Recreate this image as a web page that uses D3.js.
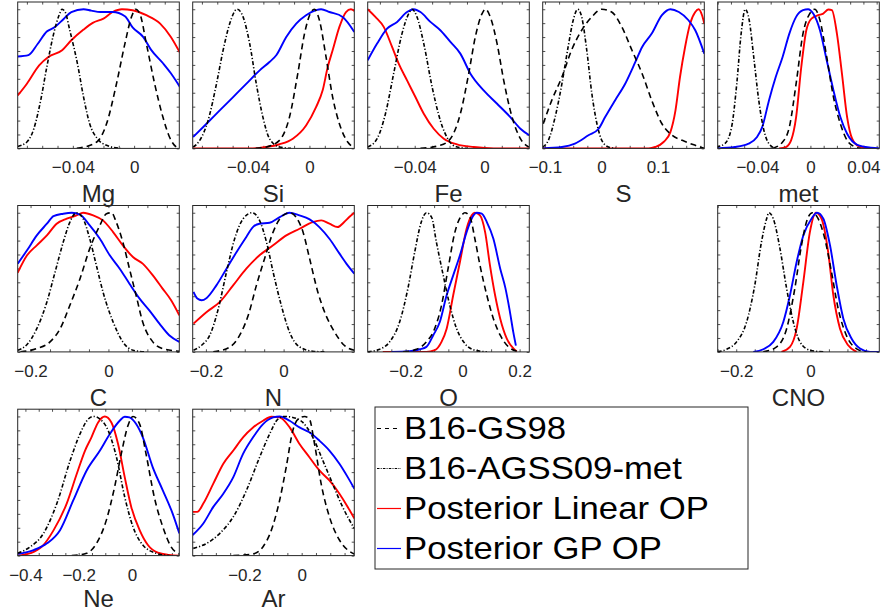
<!DOCTYPE html>
<html>
<head>
<meta charset="utf-8">
<script src="https://cdn.jsdelivr.net/npm/d3@7"></script>
<style>
  body { margin: 0; background: #fff; }
  svg { display: block; }
</style>
</head>
<body>
<script>
// Abundance posteriors vs. solar-model priors, one small panel per element.
const elements = ["Mg", "Si", "Fe", "S", "met", "C", "N", "O", "CNO", "Ne", "Ar"];
const xLo = [-0.076, -0.076, -0.067, -0.104, -0.070, -0.233, -0.234, -0.333, -0.250, -0.429, -0.381];
const xHi = [0.0295, 0.0292, 0.0258, 0.182, 0.052, 0.182, 0.182, 0.234, 0.186, 0.178, 0.184];
const tickLabelValues = [
  [-0.04, 0], [-0.04, 0], [-0.04, 0], [-0.1, 0, 0.1], [-0.04, 0, 0.04],
  [-0.2, 0], [-0.2, 0], [-0.2, 0, 0.2], [-0.2, 0], [-0.4, -0.2, 0], [-0.2, 0]
];
const minorStep = [0.01, 0.01, 0.01, 0.025, 0.01, 0.05, 0.05, 0.05, 0.05, 0.05, 0.05];
const legendLabels = ["B16-GS98", "B16-AGSS09-met", "Posterior Linear OP", "Posterior GP OP"];

// ---- Mg
const mgGS98 = [[-0.0374,0],[-0.0244,0.046],[-0.018,0.177],[-0.0115,0.465],[-0.006,0.753],[-0.0017,0.945],[0.001,1.0],[0.0037,0.969],[0.008,0.753],[0.0134,0.465],[0.0188,0.225],[0.0231,0.082],[0.0275,0.01],[0.0296,0]];
const mgAGSS = [[-0.076,0.014],[-0.070,0.046],[-0.0655,0.14],[-0.061,0.345],[-0.057,0.585],[-0.0525,0.825],[-0.049,0.957],[-0.047,1.0],[-0.045,0.98],[-0.042,0.849],[-0.037,0.609],[-0.033,0.369],[-0.029,0.177],[-0.024,0.07],[-0.018,0.022],[-0.009,0]];
const mgLinear = [[-0.076,0.38],[-0.070,0.465],[-0.062,0.597],[-0.056,0.657],[-0.047,0.705],[-0.041,0.777],[-0.033,0.854],[-0.027,0.902],[-0.020,0.933],[-0.014,0.98],[-0.008,1.0],[-0.001,0.993],[0.008,0.957],[0.017,0.897],[0.024,0.801],[0.030,0.686]];
const mgGP = [[-0.076,0.66],[-0.069,0.67],[-0.063,0.75],[-0.057,0.84],[-0.052,0.87],[-0.046,0.93],[-0.041,0.98],[-0.033,1.0],[-0.028,0.99],[-0.022,0.98],[-0.014,0.98],[-0.006,0.95],[-0.001,0.87],[0.006,0.80],[0.011,0.71],[0.019,0.61],[0.024,0.54],[0.030,0.44]];

// ---- Si
const siGS98 = [[-0.035,0],[-0.0281,0.01],[-0.0195,0.058],[-0.013,0.225],[-0.0076,0.537],[-0.0032,0.825],[0.0011,0.98],[0.0032,1.0],[0.0065,0.921],[0.0108,0.657],[0.0151,0.369],[0.0195,0.177],[0.0249,0.046],[0.0281,0.01]];
const siAGSS = [[-0.0757,0.01],[-0.0714,0.058],[-0.066,0.2],[-0.0605,0.465],[-0.0562,0.705],[-0.0519,0.897],[-0.0471,1.0],[-0.0432,0.945],[-0.0389,0.753],[-0.0346,0.465],[-0.0303,0.225],[-0.026,0.07],[-0.0195,0.01],[-0.012,0]];
const siLinear = [[-0.0761,0],[-0.0368,0],[-0.0281,0.01],[-0.0195,0.03],[-0.0108,0.07],[-0.0022,0.165],[0.0043,0.297],[0.0086,0.417],[0.0119,0.585],[0.0151,0.705],[0.0195,0.873],[0.0238,0.98],[0.027,1.0],[0.0292,0.988]];
const siGP = [[-0.0757,0.082],[-0.067,0.177],[-0.0584,0.273],[-0.0497,0.369],[-0.041,0.465],[-0.0324,0.561],[-0.026,0.621],[-0.0216,0.669],[-0.0151,0.801],[-0.0086,0.897],[-0.0022,0.957],[0.0043,0.993],[0.0076,1.0],[0.013,0.98],[0.0216,0.945],[0.0292,0.837]];

// ---- Fe
const feGS98 = [[-0.0367,0],[-0.0253,0.022],[-0.0195,0.07],[-0.0138,0.249],[-0.009,0.537],[-0.0052,0.801],[-0.0013,0.969],[0.0006,1.0],[0.0034,0.945],[0.0073,0.753],[0.0111,0.489],[0.0159,0.225],[0.0207,0.07],[0.0255,0.01]];
const feAGSS = [[-0.067,0.01],[-0.0616,0.07],[-0.0568,0.249],[-0.0521,0.537],[-0.0473,0.825],[-0.0434,0.969],[-0.0415,1.0],[-0.0387,0.945],[-0.0348,0.753],[-0.03,0.441],[-0.0253,0.201],[-0.0205,0.058],[-0.0157,0.01],[-0.01,0]];
const feLinear = [[-0.067,1.0],[-0.0626,0.945],[-0.0578,0.873],[-0.053,0.729],[-0.0492,0.609],[-0.0444,0.489],[-0.0396,0.369],[-0.0348,0.249],[-0.0291,0.141],[-0.0233,0.07],[-0.0157,0.029],[-0.0061,0.01],[0.0054,0],[0.0258,0]];
const feGP = [[-0.067,0.633],[-0.0616,0.753],[-0.0559,0.861],[-0.0501,0.909],[-0.0444,0.98],[-0.0406,1.0],[-0.0367,0.98],[-0.031,0.909],[-0.0253,0.849],[-0.0195,0.765],[-0.0138,0.681],[-0.008,0.537],[-0.0004,0.417],[0.0073,0.321],[0.0149,0.225],[0.0207,0.141],[0.0258,0.094]];

// ---- S
const sGS98 = [[-0.103,0.177],[-0.088,0.345],[-0.070,0.513],[-0.053,0.705],[-0.035,0.849],[-0.017,0.945],[0.0006,1.0],[0.018,0.98],[0.036,0.873],[0.054,0.705],[0.072,0.537],[0.089,0.345],[0.107,0.177],[0.125,0.094],[0.143,0.058],[0.166,0.022],[0.182,0]];
const sAGSS = [[-0.104,0.01],[-0.094,0.058],[-0.082,0.225],[-0.070,0.465],[-0.059,0.729],[-0.050,0.921],[-0.042,1.0],[-0.035,0.945],[-0.026,0.705],[-0.017,0.393],[-0.008,0.177],[0.0006,0.058],[0.0124,0.01],[0.025,0]];
const sLinear = [[-0.104,0],[0.0834,0],[0.095,0.01],[0.110,0.046],[0.122,0.117],[0.131,0.273],[0.139,0.513],[0.148,0.729],[0.157,0.897],[0.166,0.98],[0.172,1.0],[0.178,0.957],[0.182,0.897]];
const sGP = [[-0.104,0],[-0.070,0.01],[-0.047,0.034],[-0.023,0.094],[-0.005,0.141],[0.0065,0.225],[0.024,0.345],[0.042,0.465],[0.060,0.621],[0.072,0.729],[0.089,0.825],[0.107,0.957],[0.122,1.0],[0.137,0.98],[0.154,0.921],[0.166,0.849],[0.182,0.681]];

// ---- met
const metGS98 = [[-0.0287,0],[-0.021,0.046],[-0.0159,0.153],[-0.0108,0.465],[-0.0056,0.825],[-0.0005,0.969],[0.0033,1.0],[0.0072,0.921],[0.0123,0.657],[0.0174,0.369],[0.0226,0.177],[0.0277,0.058],[0.0328,0.014],[0.038,0]];
const metAGSS = [[-0.071,0.01],[-0.0646,0.034],[-0.0595,0.153],[-0.0556,0.465],[-0.0523,0.825],[-0.0492,1.0],[-0.0462,0.921],[-0.0428,0.657],[-0.039,0.345],[-0.0351,0.129],[-0.0313,0.034],[-0.0262,0]];
const metLinear = [[-0.0236,0],[-0.0185,0.01],[-0.0146,0.058],[-0.0108,0.225],[-0.0069,0.585],[-0.0031,0.849],[0.0008,0.933],[0.0059,0.957],[0.0097,0.969],[0.0136,0.998],[0.0162,0.993],[0.02,0.825],[0.0238,0.537],[0.0277,0.225],[0.0315,0.07],[0.0367,0.014],[0.0456,0]];
const metGP = [[-0.071,0],[-0.057,0.01],[-0.0467,0.034],[-0.0403,0.082],[-0.0364,0.153],[-0.0313,0.345],[-0.0262,0.513],[-0.021,0.657],[-0.0159,0.825],[-0.0108,0.945],[-0.0056,0.993],[-0.0018,1.0],[0.0021,0.969],[0.0072,0.849],[0.0123,0.633],[0.0174,0.417],[0.0226,0.225],[0.0277,0.105],[0.0354,0.026],[0.0456,0.005],[0.0528,0]];

// ---- C
const cGS98 = [[-0.226,0],[-0.184,0.024],[-0.150,0.072],[-0.124,0.167],[-0.099,0.335],[-0.073,0.526],[-0.048,0.742],[-0.022,0.909],[-0.005,0.993],[0.008,1.0],[0.020,0.933],[0.037,0.789],[0.054,0.598],[0.071,0.407],[0.088,0.215],[0.114,0.072],[0.139,0.024],[0.182,0.005]];
const cAGSS = [[-0.233,0.012],[-0.209,0.053],[-0.184,0.167],[-0.158,0.359],[-0.137,0.574],[-0.116,0.789],[-0.099,0.933],[-0.082,1.0],[-0.065,0.957],[-0.048,0.813],[-0.031,0.622],[-0.014,0.431],[0.012,0.215],[0.037,0.072],[0.063,0.012],[0.097,0]];
const cLinear = [[-0.233,0.569],[-0.209,0.694],[-0.184,0.766],[-0.158,0.837],[-0.133,0.921],[-0.107,0.957],[-0.082,0.981],[-0.065,1.0],[-0.039,0.981],[-0.014,0.945],[0.012,0.861],[0.037,0.766],[0.063,0.682],[0.088,0.634],[0.114,0.55],[0.139,0.455],[0.161,0.371],[0.182,0.263]];
const cGP = [[-0.233,0.634],[-0.209,0.73],[-0.184,0.837],[-0.158,0.921],[-0.141,0.976],[-0.116,0.993],[-0.094,1.0],[-0.073,0.986],[-0.048,0.909],[-0.022,0.813],[0.0034,0.694],[0.029,0.598],[0.054,0.49],[0.080,0.383],[0.105,0.299],[0.131,0.203],[0.156,0.12],[0.182,0.072]];

// ---- N
const nGS98 = [[-0.181,0],[-0.138,0.036],[-0.113,0.12],[-0.091,0.263],[-0.070,0.478],[-0.049,0.67],[-0.027,0.861],[-0.006,0.969],[0.015,1.0],[0.032,0.969],[0.050,0.861],[0.067,0.67],[0.088,0.431],[0.109,0.263],[0.131,0.144],[0.156,0.048],[0.182,0.012]];
const nAGSS = [[-0.232,0.012],[-0.211,0.048],[-0.190,0.12],[-0.168,0.311],[-0.147,0.574],[-0.126,0.813],[-0.104,0.957],[-0.081,1.0],[-0.062,0.945],[-0.044,0.789],[-0.027,0.574],[-0.006,0.335],[0.015,0.144],[0.041,0.036],[0.075,0.005],[0.105,0]];
const nLinear = [[-0.232,0.203],[-0.198,0.287],[-0.164,0.359],[-0.130,0.478],[-0.096,0.598],[-0.062,0.694],[-0.027,0.766],[0.007,0.837],[0.041,0.885],[0.075,0.933],[0.097,0.945],[0.118,0.921],[0.139,0.897],[0.156,0.933],[0.169,0.969],[0.182,1.0]];
const nGP = [[-0.232,0.431],[-0.222,0.383],[-0.211,0.371],[-0.198,0.388],[-0.173,0.478],[-0.147,0.598],[-0.121,0.718],[-0.096,0.826],[-0.079,0.897],[-0.062,0.921],[-0.036,0.928],[-0.010,0.969],[0.015,1.0],[0.041,0.981],[0.067,0.952],[0.092,0.897],[0.118,0.813],[0.144,0.706],[0.165,0.622],[0.182,0.562]];

// ---- O
const oGS98 = [[-0.209,0],[-0.162,0.019],[-0.127,0.072],[-0.098,0.167],[-0.074,0.335],[-0.051,0.598],[-0.027,0.861],[-0.0035,0.981],[0.008,1.0],[0.026,0.969],[0.043,0.813],[0.061,0.622],[0.085,0.407],[0.108,0.239],[0.132,0.12],[0.161,0.036],[0.190,0.005]];
const oAGSS = [[-0.333,0],[-0.291,0.019],[-0.256,0.072],[-0.221,0.215],[-0.192,0.455],[-0.168,0.718],[-0.145,0.933],[-0.127,1.0],[-0.109,0.969],[-0.092,0.789],[-0.068,0.55],[-0.045,0.335],[-0.021,0.167],[0.008,0.06],[0.043,0.012],[0.085,0]];
const oLinear = [[-0.280,0],[-0.127,0],[-0.098,0.012],[-0.074,0.072],[-0.056,0.167],[-0.033,0.407],[-0.0094,0.646],[0.014,0.885],[0.032,0.981],[0.043,1.0],[0.061,0.981],[0.079,0.861],[0.096,0.622],[0.114,0.407],[0.132,0.239],[0.155,0.096],[0.179,0.024],[0.190,0.005]];
const oGP = [[-0.250,0],[-0.186,0.005],[-0.150,0.019],[-0.127,0.036],[-0.103,0.12],[-0.080,0.215],[-0.056,0.407],[-0.033,0.55],[-0.0094,0.694],[0.014,0.861],[0.038,0.981],[0.049,1.0],[0.067,0.993],[0.085,0.933],[0.108,0.813],[0.132,0.598],[0.150,0.46],[0.165,0.30],[0.178,0.14],[0.187,0.045]];

// ---- CNO
const cnoGS98 = [[-0.127,0],[-0.091,0.036],[-0.064,0.167],[-0.042,0.455],[-0.024,0.766],[-0.0058,0.969],[0.0058,1.0],[0.021,0.957],[0.039,0.813],[0.057,0.574],[0.075,0.311],[0.097,0.12],[0.124,0.024],[0.151,0]];
const cnoAGSS = [[-0.250,0],[-0.226,0.019],[-0.199,0.072],[-0.172,0.215],[-0.150,0.478],[-0.132,0.789],[-0.118,0.957],[-0.112,1.0],[-0.100,0.957],[-0.082,0.742],[-0.064,0.455],[-0.046,0.215],[-0.028,0.072],[-0.0013,0.012],[0.035,0]];
const cnoLinear = [[-0.078,0],[-0.055,0.036],[-0.037,0.167],[-0.019,0.502],[-0.0013,0.861],[0.015,1.0],[0.030,0.957],[0.048,0.718],[0.062,0.407],[0.080,0.167],[0.102,0.048],[0.125,0]];
const cnoGP = [[-0.154,0],[-0.127,0.019],[-0.100,0.072],[-0.073,0.215],[-0.055,0.407],[-0.037,0.646],[-0.019,0.837],[0.003,0.957],[0.018,1.0],[0.035,0.957],[0.053,0.766],[0.071,0.478],[0.089,0.239],[0.111,0.096],[0.134,0.024],[0.161,0],[0.186,0]];

// ---- Ne
const neGS98 = [[-0.226,0],[-0.170,0.017],[-0.133,0.088],[-0.096,0.255],[-0.065,0.493],[-0.040,0.731],[-0.015,0.933],[0.004,1.0],[0.029,0.945],[0.053,0.731],[0.084,0.421],[0.116,0.207],[0.147,0.064],[0.178,0.012]];
const neAGSS = [[-0.429,0.017],[-0.381,0.064],[-0.332,0.16],[-0.282,0.374],[-0.232,0.683],[-0.195,0.874],[-0.164,0.981],[-0.143,1.0],[-0.120,0.981],[-0.089,0.898],[-0.058,0.707],[-0.027,0.421],[0.004,0.207],[0.041,0.076],[0.091,0.017],[0.140,0]];
const neLinear = [[-0.429,0],[-0.381,0.017],[-0.338,0.064],[-0.294,0.183],[-0.245,0.374],[-0.207,0.588],[-0.176,0.755],[-0.152,0.85],[-0.127,0.957],[-0.102,1.0],[-0.077,0.957],[-0.052,0.802],[-0.027,0.564],[-0.0025,0.35],[0.029,0.183],[0.060,0.076],[0.097,0.021],[0.140,0.005],[0.178,0]];
const neGP = [[-0.429,0.012],[-0.369,0.04],[-0.319,0.088],[-0.270,0.183],[-0.220,0.398],[-0.170,0.612],[-0.120,0.755],[-0.083,0.874],[-0.046,0.969],[-0.027,0.998],[-0.009,0.993],[0.016,0.945],[0.041,0.85],[0.078,0.636],[0.116,0.469],[0.153,0.302],[0.178,0.16]];

// ---- Ar
const arGS98 = [[-0.239,0],[-0.170,0.012],[-0.135,0.064],[-0.106,0.183],[-0.077,0.398],[-0.054,0.636],[-0.031,0.898],[-0.013,0.981],[0.010,1.0],[0.027,0.981],[0.045,0.802],[0.068,0.517],[0.097,0.279],[0.132,0.112],[0.161,0.04],[0.184,0.012]];
const arAGSS = [[-0.379,0.052],[-0.332,0.088],[-0.286,0.16],[-0.239,0.279],[-0.193,0.469],[-0.147,0.707],[-0.112,0.874],[-0.083,0.981],[-0.060,1.0],[-0.031,0.993],[0.004,0.957],[0.039,0.85],[0.074,0.683],[0.108,0.517],[0.143,0.35],[0.184,0.195]];
const arLinear = [[-0.381,0.314],[-0.365,0.314],[-0.344,0.374],[-0.309,0.517],[-0.274,0.66],[-0.239,0.755],[-0.205,0.85],[-0.170,0.921],[-0.135,0.969],[-0.106,0.998],[-0.077,0.993],[-0.042,0.921],[-0.0075,0.802],[0.027,0.707],[0.062,0.612],[0.097,0.54],[0.132,0.445],[0.161,0.35],[0.184,0.267]];
const arGP = [[-0.381,0.148],[-0.344,0.231],[-0.309,0.35],[-0.274,0.445],[-0.239,0.564],[-0.205,0.731],[-0.170,0.85],[-0.135,0.945],[-0.100,0.993],[-0.077,1.0],[-0.042,0.969],[-0.0075,0.921],[0.027,0.886],[0.062,0.826],[0.097,0.755],[0.132,0.66],[0.161,0.564],[0.184,0.481]];

const gs98Series   = [mgGS98, siGS98, feGS98, sGS98, metGS98, cGS98, nGS98, oGS98, cnoGS98, neGS98, arGS98];
const agssSeries   = [mgAGSS, siAGSS, feAGSS, sAGSS, metAGSS, cAGSS, nAGSS, oAGSS, cnoAGSS, neAGSS, arAGSS];
const linearSeries = [mgLinear, siLinear, feLinear, sLinear, metLinear, cLinear, nLinear, oLinear, cnoLinear, neLinear, arLinear];
const gpSeries     = [mgGP, siGP, feGP, sGP, metGP, cGP, nGP, oGP, cnoGP, neGP, arGP];

// ---- layout
const W = 888, H = 613;
const colX = [17.7, 192.7, 367.7, 542.7, 717.7];
const rowY = [2, 205.5, 409.2];
const pw = 161.6, ph = 146.4;
const slots = [[0,0],[1,0],[2,0],[3,0],[4,0],[0,1],[1,1],[2,1],[4,1],[0,2],[1,2]];
const yMax = 1.052;
const axisColor = "#262626";
const fontFamily = "'Liberation Sans', Arial, Helvetica, sans-serif";
const tickLen = 2.6;

const styles = {
  gs98:   { stroke: "#000", width: 1.6, dash: "6,4" },
  agss:   { stroke: "#000", width: 1.6, dash: "4,2,1.2,2" },
  linear: { stroke: "#ff0000", width: 1.9, dash: null },
  gp:     { stroke: "#0000ff", width: 1.9, dash: null }
};

const svg = d3.select("body").append("svg")
  .attr("width", W).attr("height", H)
  .attr("font-family", fontFamily);

const defs = svg.append("defs");
const fmt = d3.format("~g");

elements.forEach((name, i) => {
  const [c, r] = slots[i];
  const x0 = colX[c], y0 = rowY[r];
  const x = d3.scaleLinear().domain([xLo[i], xHi[i]]).range([x0, x0 + pw]);
  const y = d3.scaleLinear().domain([0, yMax]).range([y0 + ph, y0]);

  defs.append("clipPath").attr("id", "clip-" + i)
    .append("rect").attr("x", x0).attr("y", y0).attr("width", pw).attr("height", ph);

  const g = svg.append("g").attr("class", "panel");

  // minor ticks, pointing inward on all four sides
  const s = minorStep[i];
  const xt = d3.range(Math.ceil(xLo[i] / s - 1e-9), Math.floor(xHi[i] / s + 1e-9) + 1).map(k => +(k * s).toFixed(4));
  const yt = d3.range(0, 11).map(k => k / 10);
  const tickStyle = sel => {
    sel.select(".domain").remove();
    sel.selectAll(".tick line").attr("stroke", axisColor).attr("stroke-width", 0.8);
    sel.selectAll(".tick text").remove();
  };
  g.append("g").attr("transform", `translate(0,${y0 + ph})`)
    .call(d3.axisBottom(x).tickValues(xt).tickSize(-tickLen)).call(tickStyle);
  g.append("g").attr("transform", `translate(0,${y0})`)
    .call(d3.axisTop(x).tickValues(xt).tickSize(-tickLen)).call(tickStyle);
  g.append("g").attr("transform", `translate(${x0},0)`)
    .call(d3.axisLeft(y).tickValues(yt).tickSize(-tickLen)).call(tickStyle);
  g.append("g").attr("transform", `translate(${x0 + pw},0)`)
    .call(d3.axisRight(y).tickValues(yt).tickSize(-tickLen)).call(tickStyle);

  // curves
  const line = d3.line().x(d => x(d[0])).y(d => y(d[1])).curve(d3.curveMonotoneX);
  const curves = g.append("g").attr("clip-path", `url(#clip-${i})`);
  [["linear", linearSeries[i]], ["gp", gpSeries[i]], ["gs98", gs98Series[i]], ["agss", agssSeries[i]]]
    .forEach(([key, data]) => {
      const st = styles[key];
      curves.append("path").datum(data)
        .attr("d", line)
        .attr("fill", "none")
        .attr("stroke", st.stroke)
        .attr("stroke-width", st.width)
        .attr("stroke-linejoin", "round")
        .attr("stroke-dasharray", st.dash);
    });

  // frame
  g.append("rect").attr("x", x0).attr("y", y0).attr("width", pw).attr("height", ph)
    .attr("fill", "none").attr("stroke", axisColor).attr("stroke-width", 1);

  // tick labels
  const lab = g.append("g").attr("transform", `translate(0,${y0 + ph})`)
    .call(d3.axisBottom(x).tickValues(tickLabelValues[i]).tickSize(0).tickPadding(0).tickFormat(fmt));
  lab.select(".domain").remove();
  lab.selectAll(".tick text")
    .attr("y", 25).attr("dy", null)
    .attr("fill", axisColor)
    .attr("font-size", 17)
    .attr("font-family", fontFamily);

  // element name (bottom row sits against the page edge)
  g.append("text")
    .attr("x", x0 + pw / 2).attr("y", Math.min(y0 + ph + 54, H - 6))
    .attr("text-anchor", "middle")
    .attr("fill", axisColor)
    .attr("font-size", 24)
    .text(name);
});

// ---- legend
const legX = 375, legY = 407, legW = 373, legH = 162;
const leg = svg.append("g");
leg.append("rect").attr("x", legX).attr("y", legY).attr("width", legW).attr("height", legH)
  .attr("fill", "#fff").attr("stroke", axisColor).attr("stroke-width", 1);
const legendKeys = ["gs98", "agss", "linear", "gp"];
const legendDash = { gs98: "4,4", agss: "2.5,1.2,1,1.2", linear: null, gp: null };
legendLabels.forEach((label, k) => {
  const base = legY + 32 + k * 40;
  const st = styles[legendKeys[k]];
  leg.append("line")
    .attr("x1", legX + 2).attr("x2", legX + 26)
    .attr("y1", base - 10.5).attr("y2", base - 10.5)
    .attr("stroke", st.stroke).attr("stroke-width", 1.2)
    .attr("stroke-dasharray", legendDash[legendKeys[k]]);
  leg.append("text")
    .attr("transform", `translate(${legX + 29},${base}) scale(1.12,1)`)
    .attr("font-size", 31)
    .attr("fill", "#000")
    .text(label);
});
</script>
</body>
</html>
